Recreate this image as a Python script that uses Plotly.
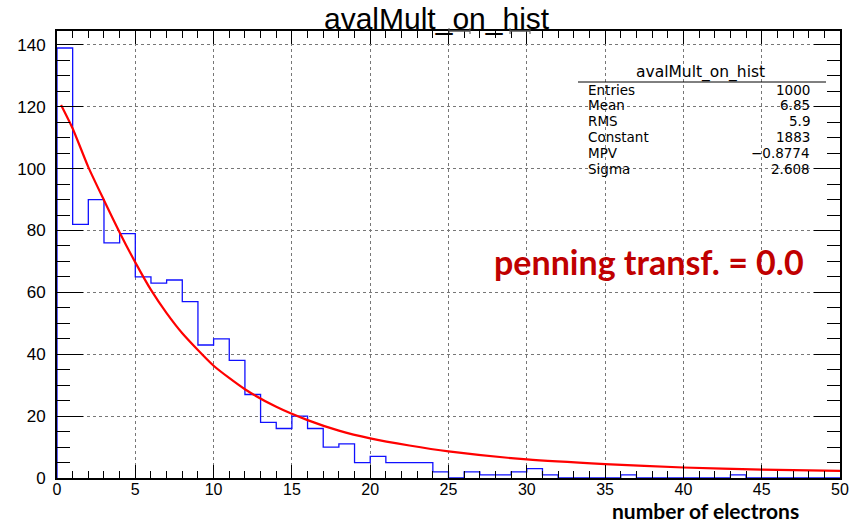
import plotly.graph_objects as go

# ---------------- data ----------------
bin_edges = list(range(0, 51))
counts = [139, 82, 90, 76, 79, 65, 63, 64, 57, 43,
          45, 38, 27, 18, 16, 20, 16, 10, 11, 5,
          7, 5, 5, 5, 2, 0, 2, 1, 1, 2,
          3, 1, 0, 0, 0, 0, 1, 0, 0, 0,
          0, 0, 0, 1, 0, 0, 0, 0, 0, 0]

fit_x = [0.26, 1, 2, 3, 4, 5, 6, 7, 8, 10, 12, 14, 16, 18, 20, 22.5, 25, 30, 35, 40, 45, 50]
fit_y = [120.6, 113, 100.5, 89.8, 79.4, 69.7, 60.8, 53.3, 46.8, 36.3, 28.7, 23.0, 18.7, 15.3,
         12.8, 10.5, 8.6, 6.0, 4.5, 3.4, 2.7, 2.3]

title_text = "avalMult_on_hist"
stat_labels = ["Entries", "Mean", "RMS", "Constant", "MPV", "Sigma"]
stat_values = ["1000", "6.85", "5.9", "1883", "\u22120.8774", "2.608"]
x_tick_vals = list(range(0, 51, 5))
y_tick_vals = list(range(0, 141, 20))

# ---------------- layout geometry ----------------
W, H = 856, 524
L, R, T, B = 57, 16, 31, 46
YMAX = 144.5
plot_w = W - L - R
plot_h = H - T - B


def px2x(px):
    return (px - L) / plot_w


def py2y(py):
    return (H - B - py) / plot_h


# histogram outline (step)
hx = [bin_edges[0]] + bin_edges
hy = [0] + counts + [counts[-1]]

fig = go.Figure()
fig.add_trace(go.Scatter(x=hx, y=hy, mode="lines", line_shape="hv",
                         line=dict(color="#1010ff", width=1.3),
                         hoverinfo="skip", showlegend=False))
fig.add_trace(go.Scatter(x=fit_x, y=fit_y, mode="lines", line_shape="spline",
                         line=dict(color="#ff0000", width=2.2, smoothing=0.6),
                         hoverinfo="skip", showlegend=False))

axis_common = dict(showline=True, linecolor="black", linewidth=2, mirror="ticks",
                   ticks="inside", tickcolor="black", tickwidth=1,
                   showgrid=True, gridcolor="#777777", griddash="dot", gridwidth=1,
                   zeroline=False)

fig.update_xaxes(range=[0, 50], tickvals=x_tick_vals, ticklen=13,
                 ticklabelstandoff=-4,
                 tickfont=dict(family="Liberation Sans, Arial", size=16, color="black"),
                 minor=dict(dtick=1, tick0=0, ticks="inside", ticklen=7,
                            tickcolor="black", showgrid=False),
                 **axis_common)
fig.update_yaxes(range=[0, YMAX], tickvals=y_tick_vals, ticklen=26,
                 ticklabelstandoff=6,
                 tickfont=dict(family="Liberation Sans, Arial", size=17, color="black"),
                 minor=dict(dtick=5, tick0=0, ticks="inside", ticklen=13,
                            tickcolor="black", showgrid=False),
                 **axis_common)

annotations = []
# title
annotations.append(dict(text=title_text, xref="paper", yref="paper",
                        x=px2x(437), y=py2y(1), xanchor="center", yanchor="top",
                        showarrow=False, borderpad=0,
                        font=dict(family="Liberation Sans, Arial", size=30, color="black")))
# stats box
stat_font = dict(family="DejaVu Sans, Liberation Sans", size=13.5, color="black")
annotations.append(dict(text=title_text, xref="paper", yref="paper",
                        x=px2x(700), y=py2y(72.5), xanchor="center", yanchor="middle",
                        showarrow=False, borderpad=0,
                        font=dict(family="DejaVu Sans, Liberation Sans", size=15.5,
                                  color="black")))
row_y = [90, 105.5, 121, 137, 153, 169]
for lab, val, py in zip(stat_labels, stat_values, row_y):
    annotations.append(dict(text=lab, xref="paper", yref="paper", x=px2x(587), y=py2y(py),
                            xanchor="left", yanchor="middle", showarrow=False, borderpad=0,
                            font=stat_font))
    annotations.append(dict(text=val, xref="paper", yref="paper", x=px2x(811), y=py2y(py),
                            xanchor="right", yanchor="middle", showarrow=False, borderpad=0,
                            font=stat_font))
# penning label
annotations.append(dict(text="<b>penning transf. = 0.0</b>", xref="paper", yref="paper",
                        x=px2x(649), y=py2y(261), xanchor="center", yanchor="middle",
                        showarrow=False,
                        font=dict(family="Lato, Noto Sans", size=34, color="#c00000")))
# x axis title
annotations.append(dict(text="<b>number of electrons</b>", xref="paper", yref="paper",
                        x=px2x(705), y=py2y(524), xanchor="center", yanchor="bottom",
                        showarrow=False, borderpad=0,
                        font=dict(family="Lato, Noto Sans", size=21, color="black")))

shapes = []
# stats header underline
shapes.append(dict(type="line", xref="paper", yref="paper",
                   x0=px2x(578), x1=px2x(826), y0=py2y(82), y1=py2y(82),
                   line=dict(color="black", width=1)))
# small marks at the top frame
for a, b in [(449, 470), (510, 530)]:
    shapes.append(dict(type="line", xref="paper", yref="paper",
                       x0=px2x(a), x1=px2x(b), y0=py2y(31), y1=py2y(31),
                       line=dict(color="#555555", width=1.5)))
    for e in (a, b):
        shapes.append(dict(type="line", xref="paper", yref="paper",
                           x0=px2x(e), x1=px2x(e), y0=py2y(28), y1=py2y(34),
                           line=dict(color="#555555", width=1)))

fig.update_layout(width=W, height=H, margin=dict(l=L, r=R, t=T, b=B, autoexpand=False),
                  plot_bgcolor="white", paper_bgcolor="white",
                  annotations=annotations, shapes=shapes, showlegend=False)

fig.write_html("out.html", config={"displayModeBar": False},
               post_script="document.body.style.margin='0';document.body.style.padding='0';"
                           "document.body.style.overflow='hidden';")
